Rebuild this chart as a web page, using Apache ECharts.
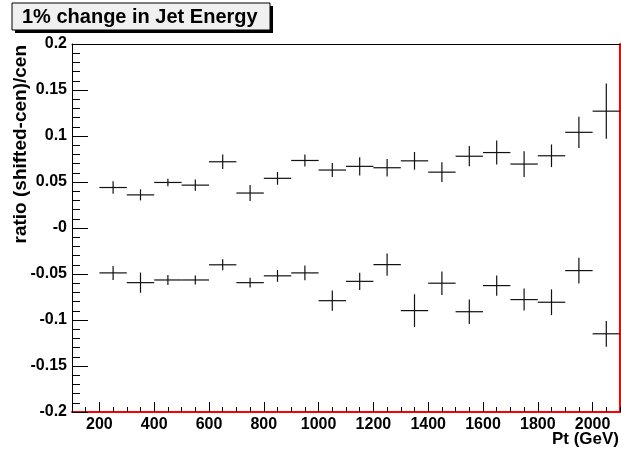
<!DOCTYPE html>
<html>
<head>
<meta charset="utf-8">
<script src="https://cdn.jsdelivr.net/npm/echarts@6/dist/echarts.min.js"></script>
<style>
html,body{margin:0;padding:0;background:#fff;}
#chart{width:621px;height:457px;}
</style>
</head>
<body>
<div id="chart"></div>
<script>
// ---- data ----
var titleText = '1% change in Jet Energy';
var xTitle = 'Pt (GeV)';
var yTitle = 'ratio (shifted-cen)/cen';
var binCenters = [250,350,450,550,650,750,850,950,1050,1150,1250,1350,1450,1550,1650,1750,1850,1950,2050];
var binHalfWidth = 50;
var upperValues = [0.044,0.036,0.0495,0.0466,0.072,0.038,0.054,0.0734,0.063,0.067,0.0655,0.073,0.0607,0.078,0.082,0.0695,0.0785,0.104,0.127];
var upperErrors = [0.0067,0.006,0.004,0.006,0.0078,0.0087,0.007,0.0065,0.0076,0.0098,0.0094,0.0096,0.0107,0.011,0.013,0.014,0.0123,0.017,0.030];
var lowerValues = [-0.0488,-0.0594,-0.0565,-0.0565,-0.040,-0.0594,-0.052,-0.0488,-0.079,-0.058,-0.0398,-0.0898,-0.060,-0.091,-0.0626,-0.0778,-0.0807,-0.0463,-0.115];
var lowerErrors = [0.0076,0.011,0.0054,0.005,0.006,0.0054,0.0065,0.008,0.011,0.0094,0.012,0.0178,0.0127,0.0134,0.011,0.012,0.014,0.014,0.014];
var xMajorTicks = [200,400,600,800,1000,1200,1400,1600,1800,2000];
var yMajorTicks = [-0.2,-0.15,-0.1,-0.05,0,0.05,0.1,0.15,0.2];
var xMinorTicks = [];
for (var t = 100; t <= 2100; t += 50) { xMinorTicks.push(t); }
var yMinorTicks = [];
for (var k = -20; k <= 20; k += 1) { yMinorTicks.push(k / 100); }
var xMin = 100, xMax = 2100, yMin = -0.2, yMax = 0.2, yStep = 0.05;

function buildData(vals, errs) {
  return binCenters.map(function (c, i) { return [c, vals[i], errs[i]]; });
}

function renderErr(params, api) {
  var x = api.value(0), y = api.value(1), e = api.value(2);
  var pL = api.coord([x - binHalfWidth, y]);
  var pR = api.coord([x + binHalfWidth, y]);
  var pT = api.coord([x, y + e]);
  var pB = api.coord([x, y - e]);
  var st = { stroke: '#111', lineWidth: 1.2 };
  return {
    type: 'group',
    children: [
      { type: 'line', shape: { x1: pL[0], y1: pL[1], x2: pR[0], y2: pR[1] }, style: st },
      { type: 'line', shape: { x1: pT[0], y1: pT[1], x2: pB[0], y2: pB[1] }, style: st }
    ]
  };
}

var FONT = '"Liberation Sans", Arial, Helvetica, sans-serif';
var labelFont = { color: '#000', fontWeight: 'bold', fontSize: 16, fontFamily: FONT };

var chart = echarts.init(document.getElementById('chart'), null, { renderer: 'canvas' });
chart.setOption({
  animation: false,
  backgroundColor: '#fff',
  grid: { left: 72, right: 1, top: 44, bottom: 45, containLabel: false },
  xAxis: [
    {
      type: 'value', min: xMin, max: xMax, position: 'bottom', z: 5,
      axisLine: { show: true, onZero: false, lineStyle: { color: '#ff0000', width: 2 } },
      axisTick: { show: true, inside: true, length: 10, customValues: xMajorTicks, lineStyle: { color: '#000', width: 1 } },
      axisLabel: Object.assign({ show: true, margin: 5, customValues: xMajorTicks, formatter: function (v) { return String(v); } }, labelFont),
      splitLine: { show: false }
    },
    {
      type: 'value', min: xMin, max: xMax, position: 'bottom', z: 5,
      axisLine: { show: false, onZero: false },
      axisTick: { show: true, inside: true, length: 5, customValues: xMinorTicks, lineStyle: { color: '#000', width: 1 } },
      axisLabel: { show: false },
      splitLine: { show: false }
    },
    {
      type: 'value', min: xMin, max: xMax, position: 'top',
      axisLine: { show: true, onZero: false, lineStyle: { color: '#000', width: 1 } },
      axisTick: { show: false }, axisLabel: { show: false }, splitLine: { show: false }
    }
  ],
  yAxis: [
    {
      type: 'value', min: yMin, max: yMax, interval: yStep, position: 'left', z: 5,
      axisLine: { show: true, onZero: false, lineStyle: { color: '#000', width: 1 } },
      axisTick: { show: true, inside: true, length: 16, customValues: yMajorTicks, lineStyle: { color: '#000', width: 1 } },
      axisLabel: Object.assign({
        show: true, margin: 5, customValues: yMajorTicks,
        formatter: function (v) {
          var r = Math.round(v * 100) / 100;
          if (r === 0) return '-0';
          return String(r);
        }
      }, labelFont),
      splitLine: { show: false }
    },
    {
      type: 'value', min: yMin, max: yMax, position: 'left', z: 5,
      axisLine: { show: false, onZero: false },
      axisTick: { show: true, inside: true, length: 8, customValues: yMinorTicks, lineStyle: { color: '#000', width: 1 } },
      axisLabel: { show: false }, splitLine: { show: false }
    },
    {
      type: 'value', min: yMin, max: yMax, position: 'right',
      axisLine: { show: true, onZero: false, lineStyle: { color: '#ff0000', width: 2 } },
      axisTick: { show: false }, axisLabel: { show: false }, splitLine: { show: false }
    }
  ],
  series: [
    { type: 'custom', xAxisIndex: 0, yAxisIndex: 0, renderItem: renderErr, data: buildData(upperValues, upperErrors), clip: false },
    { type: 'custom', xAxisIndex: 0, yAxisIndex: 0, renderItem: renderErr, data: buildData(lowerValues, lowerErrors), clip: false }
  ],
  graphic: [
    { type: 'rect', shape: { x: 15, y: 6, width: 258, height: 27 }, style: { fill: '#000' }, z: 10 },
    { type: 'rect', shape: { x: 12, y: 3, width: 258, height: 27 }, style: { fill: '#f0f0f0', stroke: '#000', lineWidth: 1 }, z: 11 },
    { type: 'text', x: 22, y: 17, z: 12, style: { text: titleText, fill: '#000', font: 'bold 20px ' + FONT, textVerticalAlign: 'middle', textAlign: 'left' } },
    { type: 'text', x: 619, y: 439, z: 12, style: { text: xTitle, fill: '#000', font: 'bold 17px ' + FONT, textVerticalAlign: 'middle', textAlign: 'right' } },
    { type: 'text', x: 21, y: 45, rotation: Math.PI / 2, z: 12, style: { text: yTitle, fill: '#000', font: 'bold 19px ' + FONT, textVerticalAlign: 'middle', textAlign: 'right' } }
  ]
});
</script>
</body>
</html>
